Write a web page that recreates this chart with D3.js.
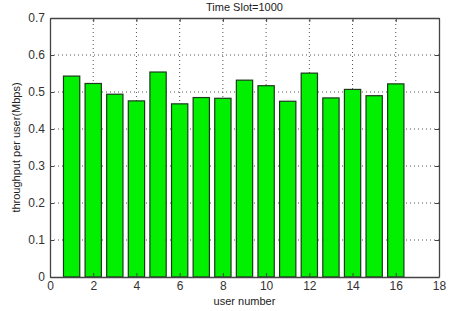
<!DOCTYPE html>
<html><head><meta charset="utf-8">
<script src="https://cdn.jsdelivr.net/npm/d3@7"></script>
<style>body{margin:0;background:#fff}svg{display:block}text{font-family:Arial,"Liberation Sans",sans-serif}</style>
</head><body>
<svg id="c" width="472" height="311"></svg>
<script>
const users = [1,2,3,4,5,6,7,8,9,10,11,12,13,14,15,16];
const throughput = [0.543,0.523,0.494,0.476,0.554,0.468,0.485,0.483,0.532,0.517,0.475,0.551,0.484,0.507,0.490,0.522];
const xTicks = [0,2,4,6,8,10,12,14,16,18];
const yTicks = [0,0.1,0.2,0.3,0.4,0.5,0.6,0.7];
const title = "Time Slot=1000";
const xLabel = "user number";
const yLabel = "throughput per user(Mbps)";

const svg = d3.select("#c");
const m = {l:50, r:33, t:18, b:34};
const W = 472, H = 311;
const x = d3.scaleLinear().domain([0,18]).range([m.l, W-m.r]);
const y = d3.scaleLinear().domain([0,0.7]).range([H-m.b, m.t]);
const axisCol = "#444";

// grid
const g = svg.append("g");
g.selectAll("line.gx").data(xTicks.slice(1,-1)).enter().append("line")
  .attr("x1",d=>x(d)).attr("x2",d=>x(d)).attr("y1",y(0)).attr("y2",y(0.7))
  .attr("stroke","#555").attr("stroke-width",1).attr("stroke-dasharray","1,3");
g.selectAll("line.gy").data(yTicks.slice(1,-1)).enter().append("line")
  .attr("y1",d=>y(d)).attr("y2",d=>y(d)).attr("x1",x(0)).attr("x2",x(18))
  .attr("stroke","#555").attr("stroke-width",1).attr("stroke-dasharray","1,3");

// bars
const bw = 0.8;
svg.selectAll("rect.bar").data(throughput).enter().append("rect")
  .attr("x",(d,i)=>x(users[i]-bw/2)+0.5).attr("width",x(bw)-x(0)-1)
  .attr("y",d=>y(d)).attr("height",d=>y(0)-y(d))
  .attr("fill","#00f000").attr("stroke","#1a3a1a").attr("stroke-width",1.2);

// axes
const xa = svg.append("g").attr("transform",`translate(0,${y(0)})`)
  .call(d3.axisBottom(x).tickValues(xTicks).tickFormat(d3.format("d")).tickSizeInner(-4).tickSizeOuter(0).tickPadding(4));
const ya = svg.append("g").attr("transform",`translate(${x(0)},0)`)
  .call(d3.axisLeft(y).tickValues(yTicks).tickFormat(d=>d===0?"0":d3.format(".1f")(d)).tickSizeInner(-4).tickSizeOuter(0).tickPadding(5));
const xa2 = svg.append("g").attr("transform",`translate(0,${y(0.7)})`)
  .call(d3.axisTop(x).tickValues(xTicks).tickFormat("").tickSizeInner(-4).tickSizeOuter(0));
const ya2 = svg.append("g").attr("transform",`translate(${x(18)},0)`)
  .call(d3.axisRight(y).tickValues(yTicks).tickFormat("").tickSizeInner(-4).tickSizeOuter(0));
[xa,ya,xa2,ya2].forEach(a=>{
  a.selectAll("path").attr("stroke",axisCol).attr("stroke-width",1.3);
  a.selectAll("line").attr("stroke",axisCol);
  a.selectAll("text").attr("fill","#333").style("font-size","12px").style("font-family","Arial, 'Liberation Sans', sans-serif");
});

svg.append("text").attr("x",(x(0)+x(18))/2).attr("y",11).attr("text-anchor","middle")
  .style("font-size","11px").attr("fill","#222").text(title);
svg.append("text").attr("x",(x(0)+x(18))/2).attr("y",305).attr("text-anchor","middle")
  .style("font-size","11px").attr("fill","#222").text(xLabel);
svg.append("text").attr("transform",`translate(20,${(y(0)+y(0.7))/2}) rotate(-90)`).attr("text-anchor","middle")
  .style("font-size","11px").attr("fill","#222").text(yLabel);
</script>
</body></html>
